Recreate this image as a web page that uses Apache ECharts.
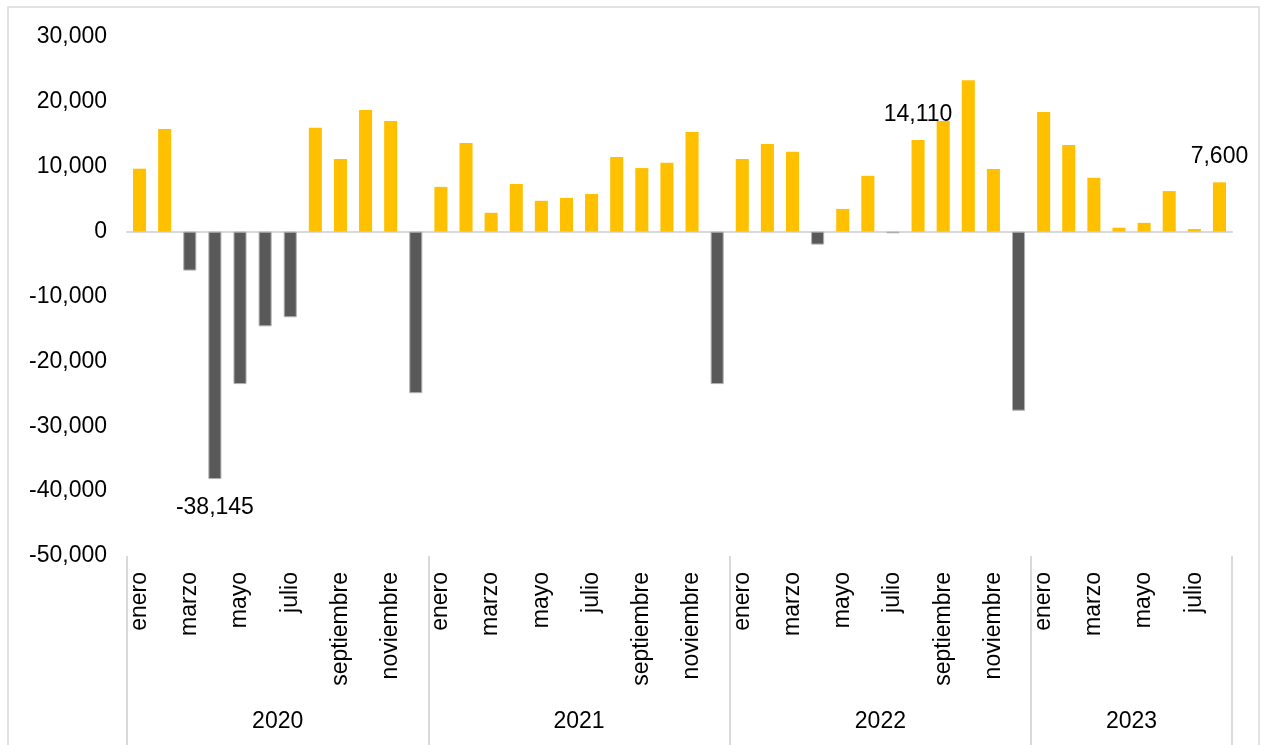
<!DOCTYPE html>
<html>
<head>
<meta charset="utf-8">
<script src="https://cdn.jsdelivr.net/npm/echarts@6/dist/echarts.min.js"></script>
<style>
  html, body { margin: 0; padding: 0; background: #ffffff; }
  #chart { width: 1262px; height: 745px; }
</style>
</head>
<body>
<div id="chart"></div>
<script>
// ---- data ----
const titleText = "Empleo formal: variación mensual de trabajadores asegurados en el IMSS, 2020-2023";
const monthNames = ["enero", "febrero", "marzo", "abril", "mayo", "junio", "julio", "agosto", "septiembre", "octubre", "noviembre", "diciembre"];
const years = ["2020", "2021", "2022", "2023"];
const monthsPerYear = [12, 12, 12, 8];
const values2020 = [9700, 15800, -6000, -38145, -23500, -14600, -13200, 16000, 11200, 18750, 17050, -24900];
const values2021 = [6900, 13650, 2900, 7350, 4750, 5200, 5800, 11500, 9800, 10600, 15350, -23500];
const values2022 = [11200, 13500, 12300, -2000, 3500, 8600, -250, 14110, 17050, 23350, 9650, -27600];
const values2023 = [18450, 13350, 8300, 600, 1350, 6250, 400, 7600];
const labelledPoints = [["2020", "abril"], ["2022", "agosto"], ["2023", "agosto"]];
const yTicks = { min: -50000, max: 30000, step: 10000 };

// ---- derived ----
const categories = [];
years.forEach((y, yi) => {
  for (let m = 0; m < monthsPerYear[yi]; m++) categories.push(monthNames[m]);
});
const values = [].concat(values2020, values2021, values2022, values2023);
const labelIdx = labelledPoints.map(([y, m]) => {
  const yi = years.indexOf(y);
  let start = 0;
  for (let k = 0; k < yi; k++) start += monthsPerYear[k];
  return start + monthNames.indexOf(m);
});
const boundaries = [0];
monthsPerYear.forEach(n => boundaries.push(boundaries[boundaries.length - 1] + n));
const yearCenters = years.map((y, i) => (boundaries[i] + boundaries[i + 1]) / 2);
const total = boundaries[boundaries.length - 1];

const fmt = v => Math.round(v).toLocaleString('en-US');
const FONT = '"Liberation Sans", Arial, sans-serif';
const POS = '#FFC000', NEG = '#595959', NEG_EDGE = '#b0b0b0';

const barData = values.map((v, i) => {
  const item = { value: v };
  if (v < 0) item.itemStyle = { color: NEG, borderColor: NEG_EDGE, borderWidth: 1 };
  else item.itemStyle = { color: POS, borderWidth: 0 };
  if (labelIdx.includes(i)) {
    item.label = { show: true, position: v < 0 ? 'bottom' : 'top', distance: v < 0 ? 17 : 14,
                   formatter: p => fmt(p.value) };
  }
  return item;
});

const chart = echarts.init(document.getElementById('chart'), null, { renderer: 'canvas' });
chart.setOption({
  animation: false,
  backgroundColor: '#ffffff',
  textStyle: { fontFamily: FONT },
  graphic: [
    { type: 'rect', shape: { x: 8, y: 7, width: 1251, height: 760 },
      style: { fill: 'none', stroke: '#d9d9d9', lineWidth: 1.5 }, silent: true, z: -1 },
    { type: 'text', x: 595, y: -22.5,
      style: { text: titleText, font: 'bold 22px ' + FONT, fill: '#000', align: 'center', verticalAlign: 'top' } }
  ],
  grid: { left: 127, right: 30, top: 37, bottom: 189, containLabel: false },
  xAxis: [
    { type: 'category', data: categories, position: 'bottom',
      axisLine: { show: true, onZero: true, lineStyle: { color: '#d9d9d9', width: 2 } },
      axisTick: { show: false }, axisLabel: { show: false }, splitLine: { show: false } },
    { type: 'category', data: categories, position: 'bottom',
      axisLine: { show: false, onZero: false }, axisTick: { show: false },
      axisLabel: { interval: 1, rotate: 90, margin: 16, fontSize: 23, color: '#000', fontFamily: FONT } },
    { type: 'value', min: 0, max: total, position: 'bottom',
      axisLine: { show: false, onZero: false },
      axisTick: { show: true, customValues: boundaries, length: 190, inside: false,
                  lineStyle: { color: '#d9d9d9', width: 2 } },
      axisLabel: { customValues: yearCenters, margin: 154, fontSize: 23, color: '#000', fontFamily: FONT,
                   formatter: v => years[yearCenters.indexOf(v)] },
      splitLine: { show: false } }
  ],
  yAxis: {
    type: 'value', min: yTicks.min, max: yTicks.max, interval: yTicks.step,
    axisLine: { show: false }, axisTick: { show: false }, splitLine: { show: false },
    axisLabel: { formatter: v => fmt(v), fontSize: 23, color: '#000', margin: 20, fontFamily: FONT }
  },
  series: [{
    type: 'bar',
    xAxisIndex: 0,
    data: barData,
    barWidth: '52%',
    label: { show: false, fontSize: 23, color: '#000', fontFamily: FONT }
  }]
});
</script>
</body>
</html>
